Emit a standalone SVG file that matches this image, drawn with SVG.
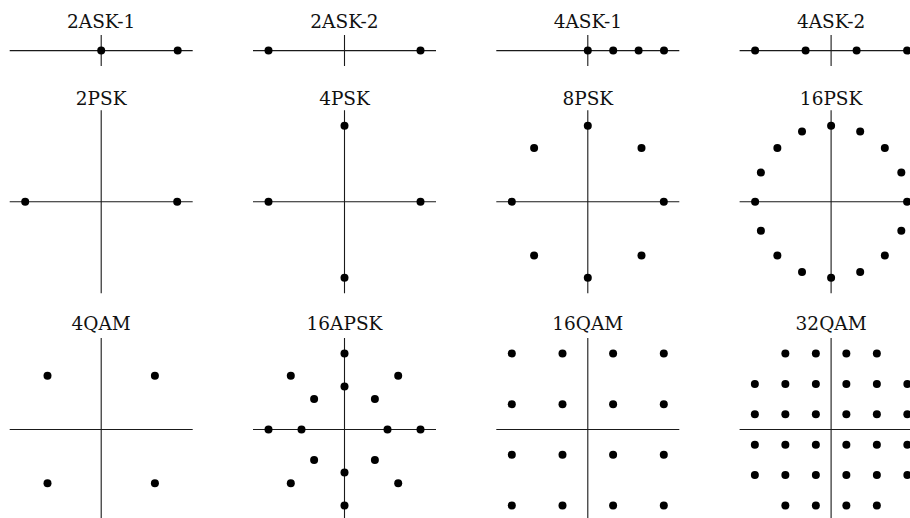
<svg xmlns="http://www.w3.org/2000/svg" xmlns:xlink="http://www.w3.org/1999/xlink" width="910" height="518" viewBox="0 0 910 518">
<style>
.ax{stroke:#1a1a1a;stroke-width:1.1;fill:none}
text{font-family:'DejaVu Serif','Liberation Serif',serif;font-size:18.5px;fill:#111;text-anchor:middle}
</style>
<defs>
<circle id="p" r="4" fill="#000"/>
<g id="ax1"><path class="ax" d="M-91.5 0H91.5M0 -15.5V15.5"/></g>
<g id="ax2"><path class="ax" d="M-91.5 0H91.5M0 -91.5V91.5"/></g>
</defs>
<rect width="910" height="518" fill="#fff"/>

<g id="ask2-1" transform="translate(101.2 50.6)">
<text y="-23">2ASK-1</text>
<use xlink:href="#ax1"/>
<use xlink:href="#p" x="0" y="0"/><use xlink:href="#p" x="76.5" y="0"/>
</g>
<g id="ask2-2" transform="translate(344.5 50.6)">
<text y="-23">2ASK-2</text>
<use xlink:href="#ax1"/>
<use xlink:href="#p" x="-76" y="0"/><use xlink:href="#p" x="76" y="0"/>
</g>
<g id="ask4-1" transform="translate(587.8 50.6)">
<text y="-23">4ASK-1</text>
<use xlink:href="#ax1"/>
<use xlink:href="#p" x="0" y="0"/><use xlink:href="#p" x="25.4" y="0"/><use xlink:href="#p" x="50.8" y="0"/><use xlink:href="#p" x="76.2" y="0"/>
</g>
<g id="ask4-2" transform="translate(831.1 50.6)">
<text y="-23">4ASK-2</text>
<use xlink:href="#ax1"/>
<use xlink:href="#p" x="-76" y="0"/><use xlink:href="#p" x="-25.5" y="0"/><use xlink:href="#p" x="25.5" y="0"/><use xlink:href="#p" x="76" y="0"/>
</g>

<g id="psk2" transform="translate(101.2 201.7)">
<text y="-97">2PSK</text>
<use xlink:href="#ax2"/>
<use xlink:href="#p" x="-76" y="0"/><use xlink:href="#p" x="76" y="0"/>
</g>
<g id="psk4" transform="translate(344.5 201.7)">
<text y="-97">4PSK</text>
<use xlink:href="#ax2"/>
<use xlink:href="#p" x="76" y="0"/><use xlink:href="#p" x="0" y="-76"/><use xlink:href="#p" x="-76" y="0"/><use xlink:href="#p" x="0" y="76"/>
</g>
<g id="psk8" transform="translate(587.8 201.7)">
<text y="-97">8PSK</text>
<use xlink:href="#ax2"/>
<use xlink:href="#p" x="76" y="0"/><use xlink:href="#p" x="53.7" y="-53.7"/><use xlink:href="#p" x="0" y="-76"/><use xlink:href="#p" x="-53.7" y="-53.7"/>
<use xlink:href="#p" x="-76" y="0"/><use xlink:href="#p" x="-53.7" y="53.7"/><use xlink:href="#p" x="0" y="76"/><use xlink:href="#p" x="53.7" y="53.7"/>
</g>
<g id="psk16" transform="translate(831.1 201.7)">
<text y="-97">16PSK</text>
<use xlink:href="#ax2"/>
<use xlink:href="#p" x="76" y="0"/><use xlink:href="#p" x="70.22" y="29.08"/><use xlink:href="#p" x="53.74" y="53.74"/><use xlink:href="#p" x="29.08" y="70.22"/>
<use xlink:href="#p" x="0" y="76"/><use xlink:href="#p" x="-29.08" y="70.22"/><use xlink:href="#p" x="-53.74" y="53.74"/><use xlink:href="#p" x="-70.22" y="29.08"/>
<use xlink:href="#p" x="-76" y="0"/><use xlink:href="#p" x="-70.22" y="-29.08"/><use xlink:href="#p" x="-53.74" y="-53.74"/><use xlink:href="#p" x="-29.08" y="-70.22"/>
<use xlink:href="#p" x="0" y="-76"/><use xlink:href="#p" x="29.08" y="-70.22"/><use xlink:href="#p" x="53.74" y="-53.74"/><use xlink:href="#p" x="70.22" y="-29.08"/>
</g>

<g id="qam4" transform="translate(101.2 429.5)">
<text y="-99.5">4QAM</text>
<use xlink:href="#ax2"/>
<use xlink:href="#p" x="-53.7" y="-53.7"/><use xlink:href="#p" x="53.7" y="-53.7"/><use xlink:href="#p" x="-53.7" y="53.7"/><use xlink:href="#p" x="53.7" y="53.7"/>
</g>
<g id="apsk16" transform="translate(344.5 429.5)">
<text y="-99.5">16APSK</text>
<use xlink:href="#ax2"/>
<use xlink:href="#p" x="43" y="0"/><use xlink:href="#p" x="30.4" y="-30.4"/><use xlink:href="#p" x="0" y="-43"/><use xlink:href="#p" x="-30.4" y="-30.4"/>
<use xlink:href="#p" x="-43" y="0"/><use xlink:href="#p" x="-30.4" y="30.4"/><use xlink:href="#p" x="0" y="43"/><use xlink:href="#p" x="30.4" y="30.4"/>
<use xlink:href="#p" x="76" y="0"/><use xlink:href="#p" x="53.7" y="-53.7"/><use xlink:href="#p" x="0" y="-76"/><use xlink:href="#p" x="-53.7" y="-53.7"/>
<use xlink:href="#p" x="-76" y="0"/><use xlink:href="#p" x="-53.7" y="53.7"/><use xlink:href="#p" x="0" y="76"/><use xlink:href="#p" x="53.7" y="53.7"/>
</g>
<g id="qam16" transform="translate(587.8 429.5)">
<text y="-99.5">16QAM</text>
<use xlink:href="#ax2"/>
<use xlink:href="#p" x="-76" y="-76"/><use xlink:href="#p" x="-25.3" y="-76"/><use xlink:href="#p" x="25.3" y="-76"/><use xlink:href="#p" x="76" y="-76"/>
<use xlink:href="#p" x="-76" y="-25.3"/><use xlink:href="#p" x="-25.3" y="-25.3"/><use xlink:href="#p" x="25.3" y="-25.3"/><use xlink:href="#p" x="76" y="-25.3"/>
<use xlink:href="#p" x="-76" y="25.3"/><use xlink:href="#p" x="-25.3" y="25.3"/><use xlink:href="#p" x="25.3" y="25.3"/><use xlink:href="#p" x="76" y="25.3"/>
<use xlink:href="#p" x="-76" y="76"/><use xlink:href="#p" x="-25.3" y="76"/><use xlink:href="#p" x="25.3" y="76"/><use xlink:href="#p" x="76" y="76"/>
</g>
<g id="qam32" transform="translate(831.1 429.5)">
<text y="-99.5">32QAM</text>
<use xlink:href="#ax2"/>
<use xlink:href="#p" x="-45.75" y="-76"/><use xlink:href="#p" x="-15.25" y="-76"/><use xlink:href="#p" x="15.25" y="-76"/><use xlink:href="#p" x="45.75" y="-76"/>
<use xlink:href="#p" x="-76.25" y="-45.5"/><use xlink:href="#p" x="-45.75" y="-45.5"/><use xlink:href="#p" x="-15.25" y="-45.5"/><use xlink:href="#p" x="15.25" y="-45.5"/><use xlink:href="#p" x="45.75" y="-45.5"/><use xlink:href="#p" x="76.25" y="-45.5"/>
<use xlink:href="#p" x="-76.25" y="-15.3"/><use xlink:href="#p" x="-45.75" y="-15.3"/><use xlink:href="#p" x="-15.25" y="-15.3"/><use xlink:href="#p" x="15.25" y="-15.3"/><use xlink:href="#p" x="45.75" y="-15.3"/><use xlink:href="#p" x="76.25" y="-15.3"/>
<use xlink:href="#p" x="-76.25" y="15.3"/><use xlink:href="#p" x="-45.75" y="15.3"/><use xlink:href="#p" x="-15.25" y="15.3"/><use xlink:href="#p" x="15.25" y="15.3"/><use xlink:href="#p" x="45.75" y="15.3"/><use xlink:href="#p" x="76.25" y="15.3"/>
<use xlink:href="#p" x="-76.25" y="45.5"/><use xlink:href="#p" x="-45.75" y="45.5"/><use xlink:href="#p" x="-15.25" y="45.5"/><use xlink:href="#p" x="15.25" y="45.5"/><use xlink:href="#p" x="45.75" y="45.5"/><use xlink:href="#p" x="76.25" y="45.5"/>
<use xlink:href="#p" x="-45.75" y="76"/><use xlink:href="#p" x="-15.25" y="76"/><use xlink:href="#p" x="15.25" y="76"/><use xlink:href="#p" x="45.75" y="76"/>
</g>
</svg>
